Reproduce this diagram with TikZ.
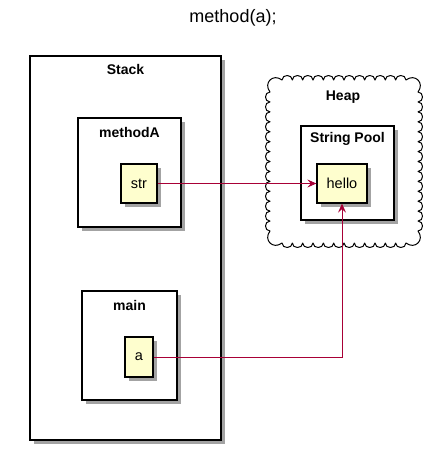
\documentclass[tikz,border=0pt]{standalone}
\usepackage{fontspec}
\setmainfont{Liberation Sans}
\usetikzlibrary{calc, arrows.meta, shadows}
\definecolor{pyellow}{HTML}{FEFECE}
\definecolor{pred}{HTML}{A80036}

\begin{document}
\begin{tikzpicture}[x=1pt, y=-1pt,
    FRM/.style={rectangle, draw=black, line width=1.3pt, fill=white, inner sep=0pt, drop shadow={shadow xshift=3.5pt, shadow yshift=-3.5pt, fill=black!45, opacity=0.8}},
    VAR/.style={rectangle, draw=black, line width=1.3pt, fill=pyellow, inner sep=0pt, font=\fontsize{14.5}{16}\selectfont, drop shadow={shadow xshift=3.5pt, shadow yshift=-3.5pt, fill=black!45, opacity=0.8}},
    TTL/.style={font=\bfseries\fontsize{14}{16}\selectfont},
    REF/.style={draw=pred, line width=0.9pt, -{Stealth[length=9pt, width=8pt, inset=3.5pt]}}
    ]
    \useasboundingbox (0,0) rectangle (440,450);
    \node[font=\fontsize{18}{20}\selectfont] (title) at (233,18) {method(a);};
    % stack side
    \node[FRM, minimum width=191pt, minimum height=384pt] (stack) at (125.5,248) {};
    \node[TTL] (stacklbl) at ($(stack.north)+(0,14)$) {Stack};
    \node[FRM, minimum width=103pt, minimum height=109pt] (methodA) at (129.5,172.5) {};
    \node[TTL] (methodAlbl) at ($(methodA.north)+(0,15)$) {methodA};
    \node[VAR, minimum width=36pt, minimum height=39pt] (str) at (139,183.5) {str};
    \node[FRM, minimum width=95pt, minimum height=109pt] (main) at (129.5,345.5) {};
    \node[TTL] (mainlbl) at ($(main.north)+(0,15)$) {main};
    \node[VAR, minimum width=28pt, minimum height=40pt] (a) at (139,357) {a};
    % heap side (cloud outline)
    \draw[line width=1pt, line join=round] (282,80)
        foreach \i in {1,...,12} { .. controls +(0,-6) and +(0,-6) .. ++(10.333,0) }
        .. controls +(9,-7) and +(7,-9) .. (418,92)
        foreach \i in {1,...,14} { .. controls +(6,0) and +(6,0) .. ++(0,9.929) }
        .. controls +(7,9) and +(9,7) .. (406,243)
        foreach \i in {1,...,12} { .. controls +(0,6) and +(0,6) .. ++(-10.333,0) }
        .. controls +(-9,7) and +(-7,9) .. (270,231)
        foreach \i in {1,...,14} { .. controls +(-6,0) and +(-6,0) .. ++(0,-9.929) }
        .. controls +(-7,-9) and +(-9,-7) .. (282,80) -- cycle;
    \node[TTL] (heaplbl) at (343,97) {Heap};
    \node[FRM, minimum width=93pt, minimum height=94pt] (pool) at (347.5,173) {};
    \node[TTL] (poollbl) at ($(pool.north)+(0,14)$) {String Pool};
    \node[VAR, minimum width=50pt, minimum height=39pt] (hello) at (342,183.5) {hello};
    % references
    \draw[REF] (str.east) -- (hello.west);
    \draw[REF] (a.east) -| (hello.south);
\end{tikzpicture}
\end{document}
